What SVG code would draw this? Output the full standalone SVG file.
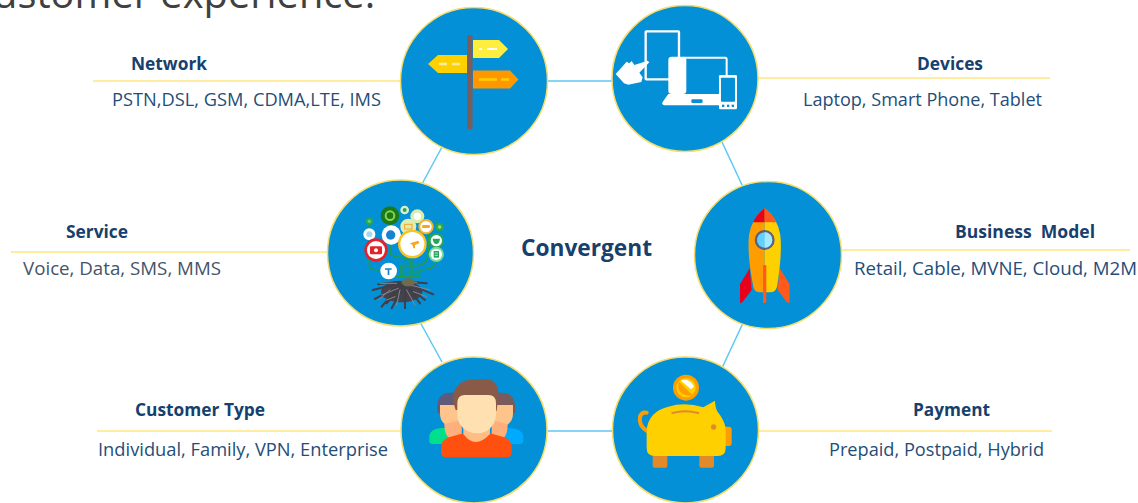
<svg xmlns="http://www.w3.org/2000/svg" width="1138" height="503" viewBox="0 0 1138 503">
<style>
text{font-family:"Open Sans","Noto Sans","Liberation Sans",sans-serif}
.h{font-size:17px;font-weight:700;fill:#17406d}
.t{font-size:18px;fill:#1f4e79}
.c{fill:#0390d6;stroke:#f5dc6a;stroke-width:1.5}
.y{stroke:#ffe680;stroke-width:1.3;fill:none}
.b{stroke:#5cc8f5;stroke-width:1.5;fill:none}
.w{fill:#fff}
.wl{fill:none;stroke:#fff;stroke-width:6;stroke-linejoin:round}
</style>
<rect width="1138" height="503" fill="#fff"/>
<text x="-26" y="8" style="font-size:39.8px;fill:#404040">customer experience.</text>
<g id="connectors">
<path class="y" d="M93 81H400M758 78H1050M11 252H327M842 250H1130M97 431H400M759 431H1052"/>
<path class="b" d="M547 81H612M548 431H612M442 147L422 184M420 322L442 362M722 142L743 187M743 323L722 368"/>
</g>
<g id="network">
<circle class="c" cx="474" cy="81" r="73.5"/>
<path d="M473 40H499L508 49L499 58H473Z" fill="#ffee3d"/>
<path d="M467 55H438L428 64L438 73H467Z" fill="#ffd000"/>
<path d="M473 70.500H510L518.500 79.500L510 88.500H473Z" fill="#ff9800"/>
<rect x="467" y="35" width="5.500" height="94" rx="1.500" fill="#7a5d5d"/>
<path d="M479 49H482M487 49H497" stroke="#fff" stroke-width="2"/>
<path d="M439 64H447M452 64H460" stroke="#ffe9a0" stroke-width="2.500"/>
<path d="M479 79.500H497M501 79.500H509" stroke="#ffd000" stroke-width="2.500"/>
<text class="h" x="131" y="69.500" textLength="76" lengthAdjust="spacingAndGlyphs">Network</text>
<text class="t" x="112" y="106" textLength="269" lengthAdjust="spacingAndGlyphs">PSTN,DSL, GSM, CDMA,LTE, IMS</text>
</g>
<g id="devices">
<circle class="c" cx="685" cy="78.500" r="73"/>
<g transform="translate(600 0) scale(.3333)">
<rect x="137" y="94" width="100" height="144" fill="none" stroke="#fff" stroke-width="7" rx="2"/>
<path class="wl" d="M250 173H376Q380 173 380 178V228"/>
<rect x="205" y="170" width="54" height="112" rx="10" class="w"/>
<path class="w" d="M205 282H360V316H192Q182 312 190 303Z"/>
<rect x="274" y="298" width="34" height="11" rx="4" fill="#0390d6"/>
<rect x="357" y="225" width="54" height="103" rx="4" class="w"/>
<rect x="363" y="233" width="42" height="72" rx="2" fill="#0390d6"/>
<rect x="366" y="314" width="7" height="7" fill="#0390d6"/><rect x="381" y="314" width="7" height="7" fill="#0390d6"/><rect x="395" y="314" width="7" height="7" fill="#0390d6"/>
<path class="w" d="M47 222L80 185L88 190L95 183L103 195L143 182L148 187L118 218L128 232L124 246L85 254L72 250Z"/>
</g>
<text class="h" x="917" y="70" textLength="66" lengthAdjust="spacingAndGlyphs">Devices</text>
<text class="t" x="803" y="106" textLength="239" lengthAdjust="spacingAndGlyphs">Laptop, Smart Phone, Tablet</text>
</g>
<g id="service">
<circle class="c" cx="400.500" cy="253" r="73"/>
<g transform="translate(320 175) scale(.3333)">
<g fill="none" stroke="#1e9e4a" stroke-width="5">
<path d="M148 145V165M210 140V165M148 250V275Q150 285 180 285M210 200V235Q215 245 260 250Q275 255 275 300M275 240V310M350 140V165M325 172V230Q325 270 290 272H240V305M348 215V250M348 255V262Q340 285 298 285V305H225M260 290H300M250 275V310"/>
</g>
<circle cx="148" cy="139" r="11" fill="#2aa84f"/><circle cx="148" cy="139" r="5" fill="#5fcf7f"/>
<circle cx="148" cy="178" r="18" fill="#fff"/><circle cx="148" cy="178" r="9" fill="#a5d9ee"/>
<circle cx="210" cy="122" r="28" fill="#1a7a1a"/><circle cx="210" cy="122" r="13" fill="none" stroke="#8ed34f" stroke-width="6"/>
<circle cx="254" cy="105" r="13" fill="#d8f0c8"/><circle cx="254" cy="105" r="6" fill="#3aa050"/>
<circle cx="292" cy="124" r="21" fill="#d8edb0"/><circle cx="292" cy="124" r="11" fill="#fff"/>
<circle cx="214" cy="180" r="29" fill="#fff"/><circle cx="212" cy="180" r="14" fill="#1583cf"/>
<circle cx="265" cy="155" r="24" fill="#e2ecb0"/><rect x="254" y="148" width="22" height="14" fill="none" stroke="#f5a623" stroke-width="3"/>
<circle cx="318" cy="155" r="23" fill="#f6b32c"/><circle cx="318" cy="155" r="17" fill="#fff"/><rect x="306" y="150" width="24" height="9" rx="4" fill="#f5a623"/>
<circle cx="359" cy="156" r="12" fill="#2aa84f"/><circle cx="359" cy="156" r="5" fill="#a3e07a"/>
<circle cx="168" cy="225" r="35" fill="#e3222c"/><circle cx="168" cy="225" r="27" fill="#fff"/><rect x="150" y="214" width="36" height="24" rx="3" fill="#e3222c"/><circle cx="168" cy="226" r="6" fill="#fff"/>
<circle cx="277" cy="207" r="43" fill="#f8c320"/><circle cx="277" cy="207" r="36" fill="#fff"/><path d="M270 205L295 197L298 205L285 210L285 220L280 220L278 211Z" fill="#f5a623"/>
<circle cx="349" cy="197" r="23" fill="#23a85a"/><circle cx="349" cy="197" r="17" fill="#fff"/><path d="M338 191H360Q358 207 349 207Q340 207 338 191Z" fill="#23a85a"/>
<circle cx="349" cy="238" r="23" fill="#7bd8a0"/><circle cx="349" cy="238" r="17" fill="#fff"/><rect x="341" y="228" width="16" height="20" fill="#23a85a"/><path d="M344 234H354M344 241H354" stroke="#fff" stroke-width="2"/>
<circle cx="206" cy="288" r="25" fill="#fff"/><path d="M195 280H215V284H208V300H203V284H195Z" fill="#1583cf"/>
<ellipse cx="245" cy="350" rx="62" ry="32" fill="#45424c"/>
<g fill="none" stroke="#3f3f48" stroke-width="6" stroke-linecap="round">
<path d="M240 320L175 328M240 325L158 345M245 330L165 372M250 330L200 385M250 335L215 400M255 335L255 400M260 330L300 385M262 325L340 358M265 320L320 325M240 330L185 395M262 335L315 375"/>
</g>
<g fill="none" stroke="#8a8690" stroke-width="3" stroke-linecap="round">
<path d="M230 325L180 325M235 340L185 360M260 345L285 390M270 330L330 345M240 345L230 390M250 320L290 322M210 345L175 375M280 350L320 365M225 365L200 375"/>
</g>
<ellipse cx="265" cy="322" rx="20" ry="12" fill="#6f6b4e"/>
</g>
<text class="h" x="66" y="237.500" textLength="62" lengthAdjust="spacingAndGlyphs">Service</text>
<text class="t" x="23" y="275" style="fill:#44546a" textLength="198" lengthAdjust="spacingAndGlyphs">Voice, Data, SMS, MMS</text>
</g>
<g id="business-model">
<circle class="c" cx="768" cy="255" r="73.500"/>
<g transform="translate(685 175) scale(.3333)">
<path d="M194 280L165 328V384L172 382L200 345Z" fill="#e8001c"/>
<path d="M284 280L314 328V384L306 382L278 345Z" fill="#ff5a1c"/>
<path d="M239 100Q200 130 192 180Q186 240 205 335Q208 352 225 352H239Z" fill="#ff9d00"/>
<path d="M239 100Q278 130 286 180Q292 240 276 335Q272 352 255 352H239Z" fill="#ffd000"/>
<path d="M239 100Q215 118 204 142H239Z" fill="#e8001c"/>
<path d="M239 100Q263 118 275 142H239Z" fill="#ff5a1c"/>
<circle cx="239" cy="195" r="30" fill="#5f5f7a"/>
<circle cx="239" cy="195" r="23" fill="#5fd0ff"/>
<path d="M239 172A23 23 0 0 1 239 218Z" fill="#a8e8ff"/>
<rect x="234" y="270" width="10" height="114" rx="4" fill="#ff5a1c"/>
</g>
<text class="h" x="955" y="238" xml:space="preserve" textLength="140" lengthAdjust="spacingAndGlyphs">Business  Model</text>
<text class="t" x="854" y="275" textLength="283" lengthAdjust="spacingAndGlyphs">Retail, Cable, MVNE, Cloud, M2M</text>
</g>
<g id="customer-type">
<circle class="c" cx="474" cy="430" r="73"/>
<g transform="translate(395 350) scale(.3333)">
<path d="M103 280V258Q106 236 140 234H200V282H112Q103 282 103 272Z" fill="#00e08c"/>
<path d="M385 272V258Q382 236 345 234H290V282H375Q385 282 385 272Z" fill="#00aaff"/>
<path d="M128 190Q120 128 165 128H210V190Z" fill="#5f5a7a"/>
<path d="M360 190Q366 128 320 128H280V190Z" fill="#7a5a5a"/>
<path d="M135 165H190V220L172 232Q135 225 135 190Z" fill="#ffc48a"/>
<path d="M354 165H300V220L316 232Q354 225 354 190Z" fill="#ffc48a"/>
<path d="M148 222L200 210V262H160Q148 250 148 222Z" fill="#ffb07a"/>
<path d="M338 222L290 210V262H328Q338 250 338 222Z" fill="#ffb07a"/>
<path d="M138 306V290Q140 265 175 258L205 250H285L315 258Q348 265 350 290V306Q350 322 335 322H153Q138 322 138 306Z" fill="#ff5010"/>
<path d="M205 225V252Q240 300 285 252V225Z" fill="#ffbc85"/>
<path d="M182 180Q165 135 185 110Q200 88 245 88H280Q312 95 310 140L305 182Z" fill="#8a5a48"/>
<path d="M187 160Q187 135 210 135H280Q303 135 303 160V195Q303 220 280 240Q265 250 245 250Q222 250 205 235Q187 218 187 195Z" fill="#ffe0b0"/>
</g>
<text class="h" x="135" y="415.500" textLength="130" lengthAdjust="spacingAndGlyphs">Customer Type</text>
<text class="t" x="98" y="455.500" textLength="290" lengthAdjust="spacingAndGlyphs">Individual, Family, VPN, Enterprise</text>
</g>
<g id="payment">
<circle class="c" cx="685.500" cy="430" r="73"/>
<g transform="translate(605 350) scale(.3333)">
<circle cx="243" cy="113" r="39" fill="#ff9d00"/>
<circle cx="243" cy="113" r="29" fill="#ffd000"/>
<path d="M222 95L262 135Q240 140 225 125Q216 110 222 95Z" fill="#ff9d00"/>
<path d="M232 90Q255 85 267 110L258 118L228 92Z" fill="#fff"/>
<path d="M128 244Q100 228 105 200Q110 185 125 188" fill="none" stroke="#ff9d00" stroke-width="12" stroke-linecap="round"/>
<rect x="143" y="310" width="44" height="43" rx="6" fill="#e28a2a"/>
<rect x="283" y="310" width="44" height="43" rx="6" fill="#e28a2a"/>
<rect x="350" y="230" width="30" height="58" rx="8" fill="#ff9d00"/>
<path d="M125 240Q130 185 190 170Q240 155 295 172L330 152Q330 180 345 195Q362 220 362 240V295Q362 318 338 318H150Q125 318 125 295Z" fill="#ffd000"/>
<circle cx="326" cy="231" r="8" fill="#e28a2a"/>
<path d="M202 189Q240 178 280 189" fill="none" stroke="#e28a2a" stroke-width="6" stroke-linecap="round"/>
</g>
<text class="h" x="913" y="415.500" textLength="77" lengthAdjust="spacingAndGlyphs">Payment</text>
<text class="t" x="829" y="455.500" textLength="215" lengthAdjust="spacingAndGlyphs">Prepaid, Postpaid, Hybrid</text>
</g>
<text id="title" x="521" y="256" style="font-size:23px;font-weight:700;fill:#17406d" textLength="131" lengthAdjust="spacingAndGlyphs">Convergent</text>
</svg>
